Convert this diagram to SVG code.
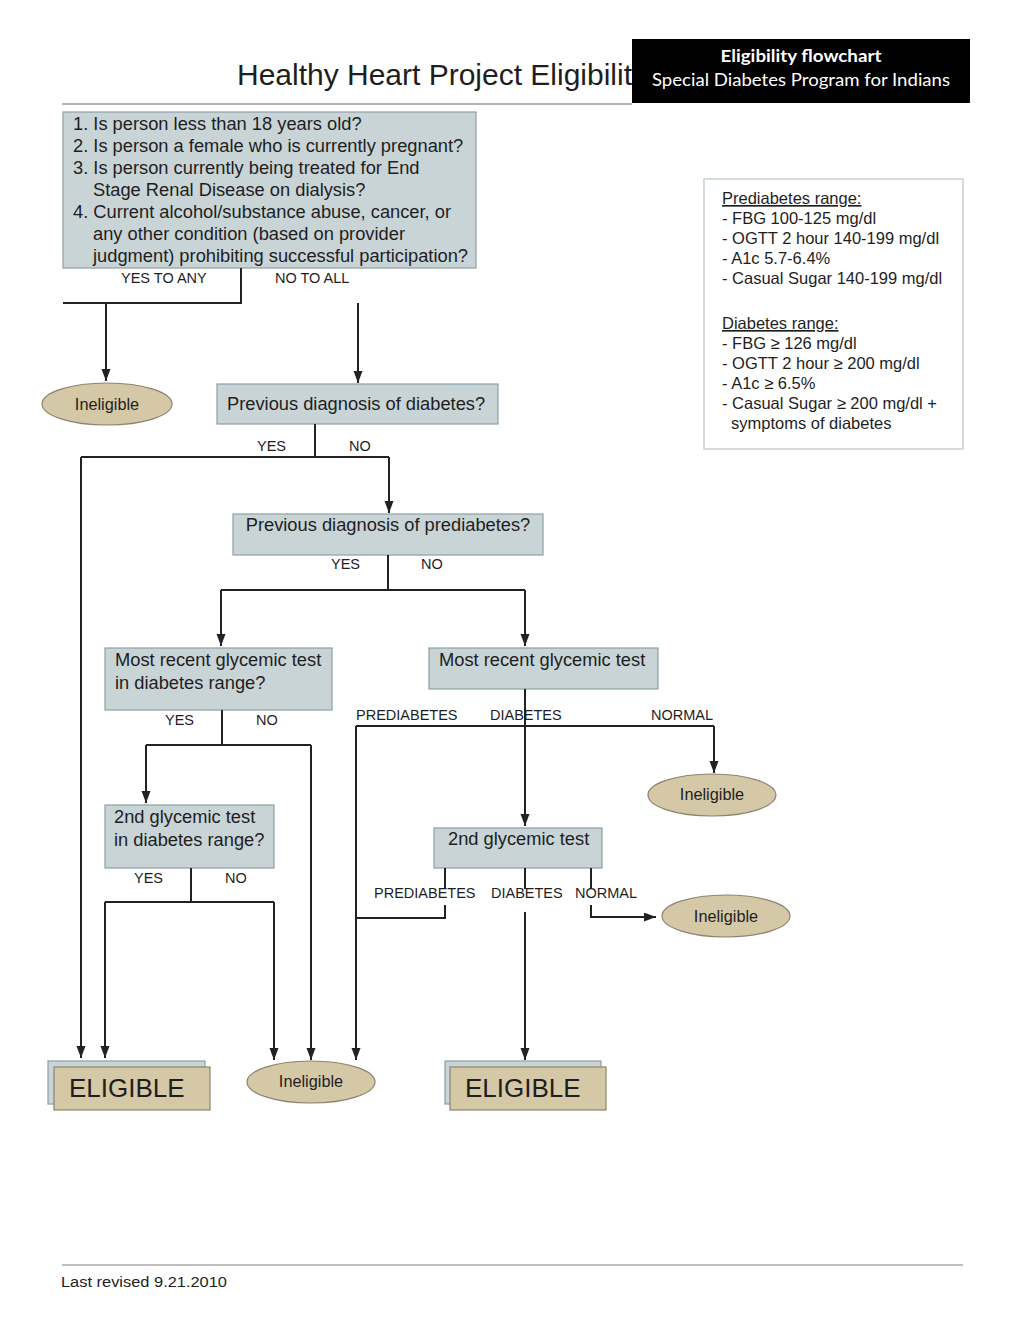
<svg xmlns="http://www.w3.org/2000/svg" width="1024" height="1325" viewBox="0 0 1024 1325">
<style>
text{font-family:"Liberation Sans",Arial,sans-serif;fill:#1e1e1e}
.q{fill:#c9d4d7;stroke:#8e9fa4;stroke-width:1.2}
.t{fill:#d5c8a7;stroke:#8d8370;stroke-width:1.2}
.fs18{font-size:18.3px}
.lb{font-size:14.5px}
.info{font-size:16.5px}
.ine{font-size:16.3px;text-anchor:middle}
.big{font-size:26px}
.c path{fill:none;stroke:#222;stroke-width:2}
.c path.a{marker-end:url(#ah)}
</style>
<defs>
<marker id="ah" markerUnits="userSpaceOnUse" markerWidth="12" markerHeight="10" refX="12" refY="4.5" orient="auto">
<path d="M0,0 L12,4.5 L0,9 z" fill="#222"/>
</marker>
</defs>
<rect width="1024" height="1325" fill="#fff"/>

<g id="header">
<line x1="62" y1="104" x2="632" y2="104" stroke="#9a9a9a" stroke-width="1.5"/>
<text x="237" y="85" font-size="30" textLength="395" lengthAdjust="spacingAndGlyphs">Healthy Heart Project Eligibilit</text>
<rect x="632" y="39" width="338" height="64" fill="#000"/>
<text x="801" y="62" font-size="17" font-weight="bold" text-anchor="middle" style="font-family:Lato,'Liberation Sans',sans-serif;fill:#fff" textLength="161" lengthAdjust="spacingAndGlyphs">Eligibility flowchart</text>
<text x="801" y="86" font-size="17" text-anchor="middle" style="font-family:Lato,'Liberation Sans',sans-serif;fill:#fff" textLength="298" lengthAdjust="spacingAndGlyphs">Special Diabetes Program for Indians</text>
</g>

<g id="n-criteria">
<rect class="q" x="63" y="112" width="413" height="156"/>
<text class="fs18" x="73" y="130">1. Is person less than 18 years old?</text>
<text class="fs18" x="73" y="152">2. Is person a female who is currently pregnant?</text>
<text class="fs18" x="73" y="174">3. Is person currently being treated for End</text>
<text class="fs18" x="93" y="196">Stage Renal Disease on dialysis?</text>
<text class="fs18" x="73" y="218">4. Current alcohol/substance abuse, cancer, or</text>
<text class="fs18" x="93" y="240">any other condition (based on provider</text>
<text class="fs18" x="93" y="262">judgment) prohibiting successful participation?</text>
</g>

<g id="n-info">
<rect x="704" y="179" width="259" height="270" fill="#fff" stroke="#c6d1d4" stroke-width="1.5"/>
<text class="info" x="722" y="204" text-decoration="underline">Prediabetes range:</text>
<text class="info" x="722" y="224">- FBG 100-125 mg/dl</text>
<text class="info" x="722" y="244">- OGTT 2 hour 140-199 mg/dl</text>
<text class="info" x="722" y="264">- A1c 5.7-6.4%</text>
<text class="info" x="722" y="284">- Casual Sugar 140-199 mg/dl</text>
<text class="info" x="722" y="329" text-decoration="underline">Diabetes range:</text>
<text class="info" x="722" y="349">- FBG ≥ 126 mg/dl</text>
<text class="info" x="722" y="369">- OGTT 2 hour ≥ 200 mg/dl</text>
<text class="info" x="722" y="389">- A1c ≥ 6.5%</text>
<text class="info" x="722" y="409">- Casual Sugar ≥ 200 mg/dl +</text>
<text class="info" x="731" y="429">symptoms of diabetes</text>
</g>

<g id="n-inel1">
<ellipse class="t" cx="107" cy="404" rx="65" ry="21"/>
<text class="ine" x="107" y="410">Ineligible</text>
</g>

<g id="n-prevdiab">
<rect class="q" x="217" y="384" width="281" height="40"/>
<text class="fs18" x="227" y="410">Previous diagnosis of diabetes?</text>
</g>

<g id="n-prevprediab">
<rect class="q" x="233" y="514" width="310" height="41"/>
<text class="fs18" x="388" y="531" text-anchor="middle">Previous diagnosis of prediabetes?</text>
</g>

<g id="n-recent-range">
<rect class="q" x="105" y="648" width="227" height="62"/>
<text class="fs18" x="115" y="666">Most recent glycemic test</text>
<text class="fs18" x="115" y="689">in diabetes range?</text>
</g>

<g id="n-recent">
<rect class="q" x="429" y="648" width="229" height="41"/>
<text class="fs18" x="439" y="666">Most recent glycemic test</text>
</g>

<g id="n-inel2">
<ellipse class="t" cx="712" cy="795" rx="64" ry="21"/>
<text class="ine" x="712" y="800">Ineligible</text>
</g>

<g id="n-second-range">
<rect class="q" x="105" y="805" width="169" height="63"/>
<text class="fs18" x="114" y="823">2nd glycemic test</text>
<text class="fs18" x="114" y="846">in diabetes range?</text>
</g>

<g id="n-second">
<rect class="q" x="434" y="828" width="168" height="40"/>
<text class="fs18" x="448" y="845">2nd glycemic test</text>
</g>

<g id="n-inel3">
<ellipse class="t" cx="726" cy="916" rx="64" ry="21"/>
<text class="ine" x="726" y="922">Ineligible</text>
</g>

<g id="n-elig1">
<rect class="q" x="48" y="1061" width="157" height="43"/>
<rect class="t" x="54" y="1067" width="156" height="43"/>
<text class="big" x="69" y="1097">ELIGIBLE</text>
</g>

<g id="n-inel4">
<ellipse class="t" cx="311" cy="1082" rx="64" ry="21"/>
<text class="ine" x="311" y="1087">Ineligible</text>
</g>

<g id="n-elig2">
<rect class="q" x="445" y="1061" width="156" height="43"/>
<rect class="t" x="450" y="1067" width="156" height="43"/>
<text class="big" x="465" y="1097">ELIGIBLE</text>
</g>

<g id="connectors" class="c">
<path d="M241,268 V303 H63"/>
<path class="a" d="M106,303 V381"/>
<path class="a" d="M358,303 V383"/>
<path d="M315,424 V457"/>
<path d="M81,457 H389"/>
<path class="a" d="M81,457 V1058"/>
<path class="a" d="M389,457 V513"/>
<path d="M388,555 V590"/>
<path d="M221,590 H525"/>
<path class="a" d="M221,590 V646"/>
<path class="a" d="M525,590 V646"/>
<path d="M222,710 V745"/>
<path d="M146,745 H311"/>
<path class="a" d="M146,745 V803"/>
<path class="a" d="M311,745 V1060"/>
<path d="M525,689 V726"/>
<path d="M356,726 H714"/>
<path class="a" d="M714,726 V773"/>
<path class="a" d="M525,726 V826"/>
<path class="a" d="M356,726 V1060"/>
<path d="M191,868 V902"/>
<path d="M105,902 H274"/>
<path class="a" d="M105,902 V1058"/>
<path class="a" d="M274,902 V1060"/>
<path d="M445,868 V889"/>
<path d="M445,905 V918 H356"/>
<path d="M525,868 V889"/>
<path class="a" d="M525,912 V1060"/>
<path d="M591,868 V889"/>
<path class="a" d="M591,905 V917 H656"/>
</g>

<g id="labels">
<text class="lb" x="121" y="283">YES TO ANY</text>
<text class="lb" x="275" y="283">NO TO ALL</text>
<text class="lb" x="257" y="451">YES</text>
<text class="lb" x="349" y="451">NO</text>
<text class="lb" x="331" y="569">YES</text>
<text class="lb" x="421" y="569">NO</text>
<text class="lb" x="165" y="725">YES</text>
<text class="lb" x="256" y="725">NO</text>
<text class="lb" x="356" y="720">PREDIABETES</text>
<text class="lb" x="490" y="720">DIABETES</text>
<text class="lb" x="651" y="720">NORMAL</text>
<text class="lb" x="134" y="883">YES</text>
<text class="lb" x="225" y="883">NO</text>
<text class="lb" x="374" y="898">PREDIABETES</text>
<text class="lb" x="491" y="898">DIABETES</text>
<text class="lb" x="575" y="898">NORMAL</text>
</g>

<g id="footer">
<line x1="62" y1="1265" x2="963" y2="1265" stroke="#aaa" stroke-width="1.5"/>
<text x="61" y="1287" font-size="15.5" textLength="166" lengthAdjust="spacingAndGlyphs">Last revised 9.21.2010</text>
</g>
</svg>
